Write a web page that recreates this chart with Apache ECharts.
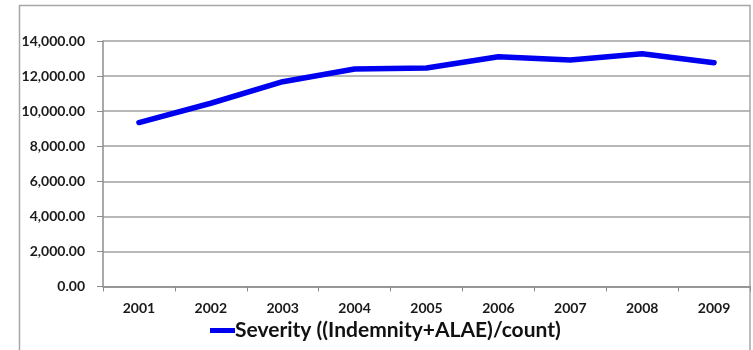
<!DOCTYPE html>
<html>
<head>
<meta charset="utf-8">
<script src="https://cdn.jsdelivr.net/npm/echarts@6/dist/echarts.min.js"></script>
<style>
  html, body { margin: 0; padding: 0; background: #fff; }
  #chart { width: 753px; height: 350px; }
</style>
</head>
<body>
<div id="chart"></div>
<script>
// Accident years on the category axis
const years = ['2001', '2002', '2003', '2004', '2005', '2006', '2007', '2008', '2009'];
// Average severity per year: (Indemnity + ALAE) / claim count
const severity = [9350, 10450, 11680, 12400, 12460, 13100, 12920, 13270, 12760];
const seriesName = 'Severity ((Indemnity+ALAE)/count)';

const FONT = 'Lato, "Open Sans", sans-serif';

const chart = echarts.init(document.getElementById('chart'), null, { renderer: 'canvas' });

chart.setOption({
  animation: false,
  backgroundColor: '#ffffff',
  graphic: [{
    // chart-area frame
    type: 'rect',
    shape: { x: 19.5, y: 5.5, width: 730.5, height: 400 },
    style: { fill: 'none', stroke: '#a6a6a6', lineWidth: 1.5 },
    silent: true,
    z: -1
  }],
  grid: { left: 103, right: 3, top: 41, bottom: 63.5, containLabel: false },
  legend: {
    data: [seriesName],
    left: 205,
    top: 315,
    itemWidth: 25,
    itemHeight: 5,
    itemGap: 0,
    icon: 'rect',
    textStyle: { fontFamily: FONT, fontWeight: 'bold', fontSize: 21, color: '#111', padding: [0, 0, 0, -5] }
  },
  xAxis: {
    type: 'category',
    data: years,
    boundaryGap: true,
    axisLine: { show: true, lineStyle: { color: '#8c8c8c', width: 1.5 } },
    axisTick: { show: true, length: 5, inside: false, lineStyle: { color: '#8c8c8c' } },
    axisLabel: { margin: 15, fontFamily: FONT, fontWeight: 'bold', fontSize: 14, color: '#1a1a1a' },
    splitLine: { show: false }
  },
  yAxis: {
    type: 'value',
    min: 0,
    max: 14000,
    interval: 2000,
    axisLine: { show: true, lineStyle: { color: '#8c8c8c', width: 1.5 } },
    axisTick: { show: true, length: 6, lineStyle: { color: '#8c8c8c' } },
    axisLabel: {
      margin: 18,
      fontFamily: FONT,
      fontWeight: 'bold',
      fontSize: 14,
      color: '#1a1a1a',
      formatter: function (v) {
        return v.toLocaleString('en-US', { minimumFractionDigits: 2, maximumFractionDigits: 2 });
      }
    },
    splitLine: { show: true, lineStyle: { color: '#a0a0a0', width: 1.5 } }
  },
  series: [{
    name: seriesName,
    type: 'line',
    data: severity,
    symbol: 'none',
    smooth: false,
    lineStyle: { color: '#0000f0', width: 5.5, cap: 'round', join: 'round' },
    itemStyle: { color: '#0000f0' }
  }]
});
</script>
</body>
</html>
